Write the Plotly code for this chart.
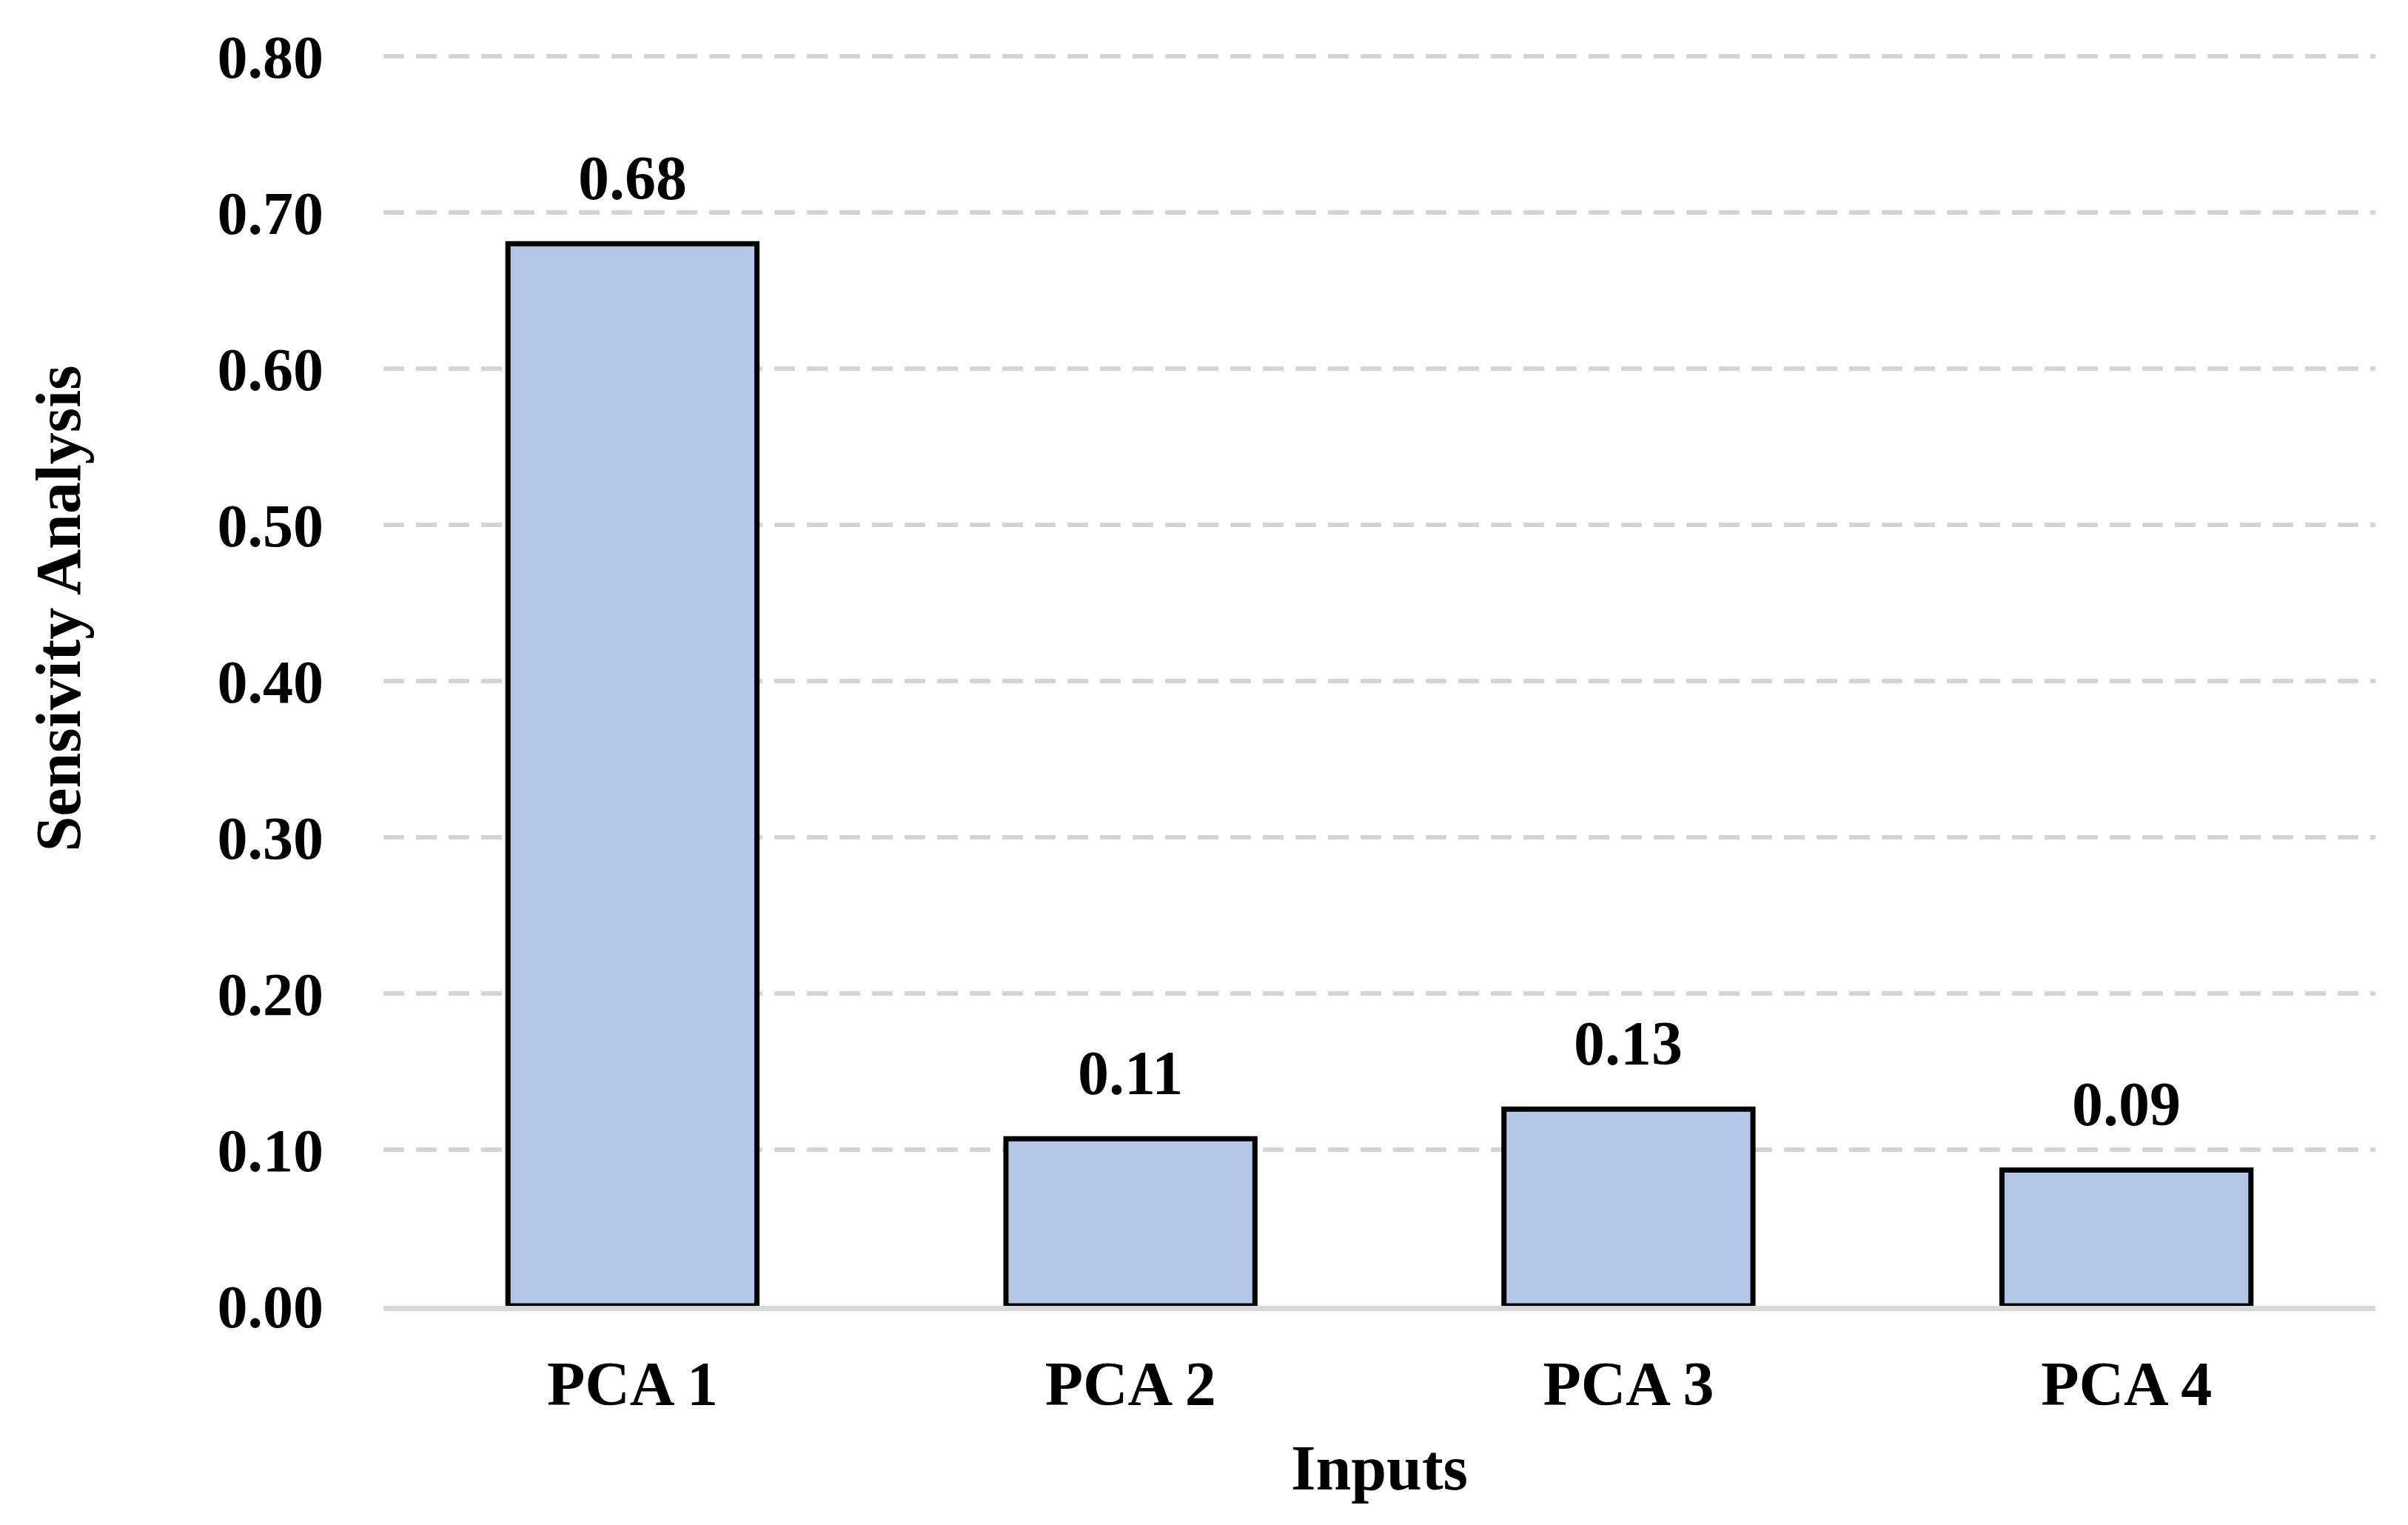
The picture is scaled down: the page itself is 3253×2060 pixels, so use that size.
import plotly.graph_objects as go

categories = ["PCA 1", "PCA 2", "PCA 3", "PCA 4"]
values = [0.68, 0.107, 0.126, 0.087]
y_ticks = [0.0, 0.1, 0.2, 0.3, 0.4, 0.5, 0.6, 0.7, 0.8]
y_title = "Sensivity Analysis"
x_title = "Inputs"

FONT = "Liberation Serif"
W, H = 3253, 2060
L, R, T, B = 510, 52, 65, 304

fig = go.Figure()
fig.add_trace(go.Bar(
    x=categories,
    y=values,
    marker=dict(color="#b4c7e7", line=dict(color="#000000", width=7)),
    width=0.5,
    textposition="none",
    hoverinfo="skip",
))

for c, v in zip(categories, values):
    fig.add_annotation(
        x=c, y=v, xref="x", yref="y",
        text=f"<b>{v:.2f}</b>", showarrow=False,
        yanchor="bottom", yshift=40,
        font=dict(family=FONT, size=84, color="#000000"),
    )

fig.add_annotation(
    x=-0.163, y=0.557, xref="paper", yref="paper",
    text=f"<b>{y_title}</b>", showarrow=False, textangle=-90,
    xanchor="center", yanchor="middle",
    font=dict(family=FONT, size=86, color="#000000"),
)

fig.update_layout(
    width=W, height=H,
    margin=dict(l=L, r=R, t=T, b=B, autoexpand=False),
    paper_bgcolor="white", plot_bgcolor="white",
    showlegend=False,
    font=dict(family=FONT, size=84, color="#000000"),
)

fig.update_xaxes(
    showgrid=False,
    showline=True, linecolor="#d9d9d9", linewidth=7,
    ticks="", ticklabelstandoff=26,
    tickfont=dict(family=FONT, size=84, color="#000000", weight="bold"),
    title=dict(text=f"<b>{x_title}</b>", standoff=40,
               font=dict(family=FONT, size=86, color="#000000")),
)

fig.update_yaxes(
    range=[0, 0.8015],
    tickvals=y_ticks,
    ticktext=[f"{t:.2f}" for t in y_ticks],
    showgrid=True, gridcolor="#d4d4d4", gridwidth=6, griddash="28px,16px",
    zeroline=False,
    showline=False,
    ticks="", ticklabelstandoff=80,
    tickfont=dict(family=FONT, size=82, color="#000000", weight="bold"),
)

fig.write_html("out.html")
